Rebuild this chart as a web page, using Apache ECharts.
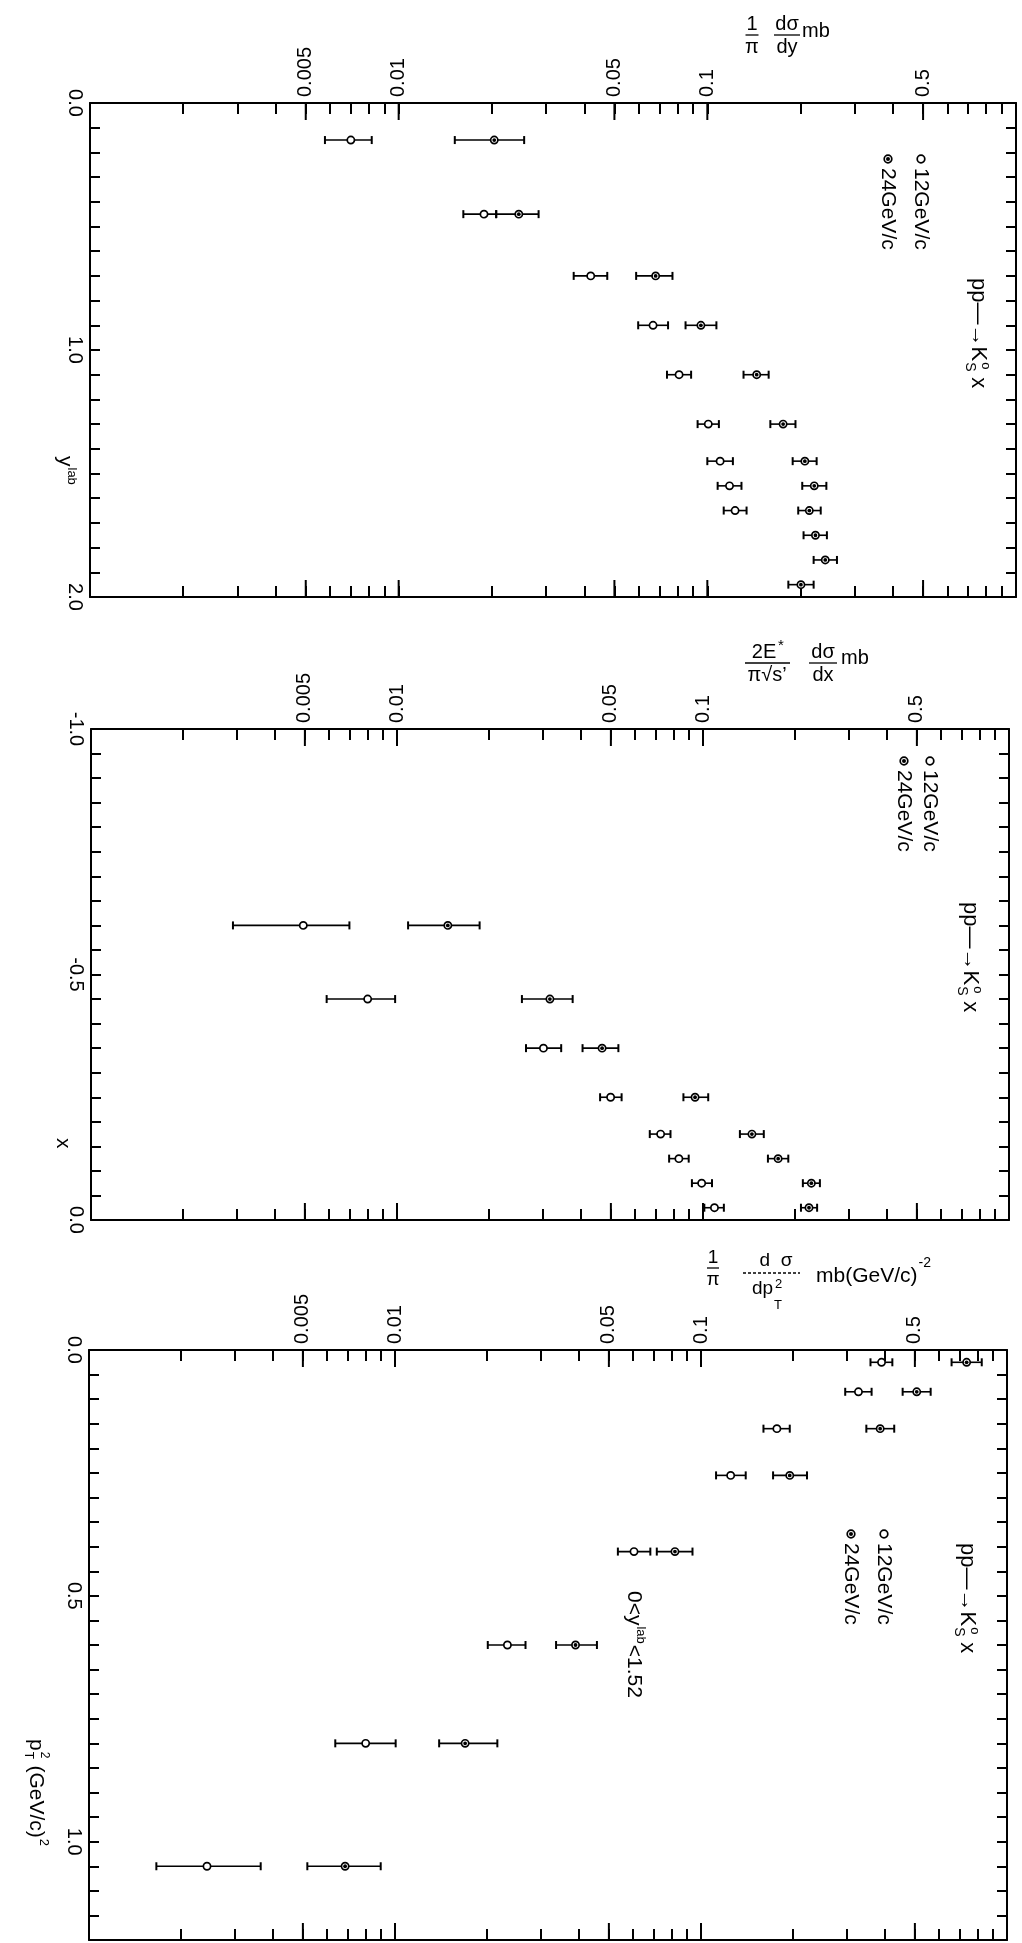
<!DOCTYPE html>
<html><head><meta charset="utf-8">
<script src="https://cdn.jsdelivr.net/npm/echarts@6/dist/echarts.min.js"></script>
<style>html,body{margin:0;padding:0;background:#fff}#c{width:1022px;height:1943px}</style>
</head><body><div id="c"></div>
<script>
// ---------------- data ----------------
const logTickValues = [0.002,0.003,0.004,0.005,0.006,0.007,0.008,0.009,0.01,0.02,0.03,0.04,0.05,0.06,0.07,0.08,0.09,0.1,0.2,0.3,0.4,0.5,0.6,0.7,0.8,0.9];
const logLabelValues = [0.005,0.01,0.05,0.1,0.5];
const logLabelTexts = ['0.005','0.01','0.05','0.1','0.5'];

const rapLabelValues = [0,1,2];
const xfLabelValues = [-1,-0.5,0];
const ptLabelValues = [0,0.5,1];

// panel 1 : 1/pi dsigma/dy vs y_lab
const rap12Y  = [0.15, 0.45, 0.7, 0.9, 1.1, 1.3, 1.45, 1.55, 1.65];
const rap12V  = [0.0070, 0.0189, 0.0419, 0.0667, 0.081, 0.1007, 0.110, 0.118, 0.123];
const rap12Lo = [0.00577, 0.0162, 0.0369, 0.0597, 0.074, 0.093, 0.100, 0.108, 0.113];
const rap12Hi = [0.00818, 0.0207, 0.0474, 0.0746, 0.0886, 0.109, 0.121, 0.129, 0.134];
const rap24Y  = [0.15, 0.45, 0.7, 0.9, 1.1, 1.3, 1.45, 1.55, 1.65, 1.75, 1.85, 1.95];
const rap24V  = [0.0204, 0.0245, 0.068, 0.0953, 0.1445, 0.176, 0.207, 0.222, 0.214, 0.224, 0.241, 0.201];
const rap24Lo = [0.0152, 0.0207, 0.0588, 0.085, 0.131, 0.160, 0.189, 0.203, 0.197, 0.205, 0.221, 0.183];
const rap24Hi = [0.0255, 0.0284, 0.0771, 0.107, 0.158, 0.193, 0.226, 0.243, 0.233, 0.244, 0.263, 0.221];

// panel 2 : 2E*/(pi sqrt s) dsigma/dx vs x
const xf12X  = [-0.6, -0.45, -0.35, -0.25, -0.175, -0.125, -0.075, -0.025];
const xf12V  = [0.00494, 0.00802, 0.0301, 0.0499, 0.0727, 0.0834, 0.099, 0.109];
const xf12Lo = [0.00291, 0.00589, 0.0264, 0.0461, 0.067, 0.0775, 0.092, 0.101];
const xf12Hi = [0.00699, 0.00986, 0.0344, 0.0542, 0.0783, 0.0898, 0.107, 0.117];
const xf24X  = [-0.6, -0.45, -0.35, -0.25, -0.175, -0.125, -0.075, -0.025];
const xf24V  = [0.01466, 0.0316, 0.0468, 0.0942, 0.1445, 0.176, 0.226, 0.222];
const xf24Lo = [0.01087, 0.0256, 0.0404, 0.0863, 0.132, 0.163, 0.212, 0.209];
const xf24Hi = [0.01862, 0.0375, 0.0529, 0.104, 0.158, 0.19, 0.241, 0.236];

// panel 3 : 1/pi dsigma/dpT2 vs pT2
const pt12P  = [0.025, 0.085, 0.16, 0.255, 0.41, 0.6, 0.8, 1.05];
const pt12V  = [0.389, 0.327, 0.177, 0.125, 0.0604, 0.0233, 0.00802, 0.00243];
const pt12Lo = [0.358, 0.296, 0.160, 0.112, 0.0535, 0.0201, 0.00638, 0.00166];
const pt12Hi = [0.422, 0.361, 0.195, 0.140, 0.0683, 0.0267, 0.01005, 0.00364];
const pt24P  = [0.025, 0.085, 0.16, 0.255, 0.41, 0.6, 0.8, 1.05];
const pt24V  = [0.738, 0.507, 0.385, 0.195, 0.0822, 0.0389, 0.01695, 0.00687];
const pt24Lo = [0.659, 0.456, 0.347, 0.172, 0.0717, 0.0336, 0.01394, 0.00517];
const pt24Hi = [0.827, 0.563, 0.428, 0.222, 0.0938, 0.0457, 0.0216, 0.00898];

// ---------------- helpers ----------------
const FONT = '"Liberation Sans", Arial, sans-serif';
const mctx = document.createElement('canvas').getContext('2d');
function tw(s, size){ mctx.font = size + 'px ' + FONT; return mctx.measureText(s).width; }

function rows(Y, V, Lo, Hi){ return Y.map((y,i)=>[V[i], y, Lo[i], Hi[i]]); }

function errRender(filled){
  return function(params, api){
    const y = api.value(1);
    const p = api.coord([api.value(0), y]);
    const a = api.coord([api.value(2), y]);
    const b = api.coord([api.value(3), y]);
    const st = {stroke:'#000', lineWidth:1.6, fill:null};
    const ch = [
      {type:'line', shape:{x1:a[0],y1:a[1],x2:b[0],y2:b[1]}, style:st},
      {type:'line', shape:{x1:a[0],y1:a[1]-4,x2:a[0],y2:a[1]+4}, style:{stroke:'#000', lineWidth:2}},
      {type:'line', shape:{x1:b[0],y1:b[1]-4,x2:b[0],y2:b[1]+4}, style:{stroke:'#000', lineWidth:2}},
      {type:'circle', shape:{cx:p[0],cy:p[1],r:3.6}, style:{fill:'#fff',stroke:'#000',lineWidth:1.7}}
    ];
    if (filled) ch.push({type:'circle', shape:{cx:p[0],cy:p[1],r:1.9}, style:{fill:'#000'}});
    return {type:'group', children:ch};
  };
}

function fmtLog(v){
  for (let i=0;i<logLabelValues.length;i++) if (Math.abs(v-logLabelValues[i]) < logLabelValues[i]*1e-6) return logLabelTexts[i];
  return '';
}

const lineSt = {color:'#000', width:2};
function xAxisPair(gi){
  return [
    {type:'log', gridIndex:gi, position:'top', min:0.001, max:1, logBase:10,
     axisLine:{show:true, onZero:false, lineStyle:lineSt},
     axisTick:{show:true, inside:true, length:11, customValues:logTickValues, lineStyle:lineSt},
     axisLabel:{show:true, customValues:logLabelValues, rotate:-90, margin:6, fontSize:20, fontFamily:FONT, color:'#000', formatter:fmtLog},
     splitLine:{show:false}, minorTick:{show:false}},
    {type:'log', gridIndex:gi, position:'bottom', min:0.001, max:1, logBase:10,
     axisLine:{show:true, onZero:false, lineStyle:lineSt},
     axisTick:{show:true, inside:true, length:11, customValues:logTickValues, lineStyle:lineSt},
     axisLabel:{show:false}, splitLine:{show:false}, minorTick:{show:false}}
  ];
}
function yAxisPair(gi, min, max, interval, labels){
  return [
    {type:'value', gridIndex:gi, position:'left', min, max, interval, inverse:true,
     axisLine:{show:true, onZero:false, lineStyle:lineSt},
     axisTick:{show:true, inside:true, length:10, lineStyle:lineSt},
     axisLabel:{show:true, customValues:labels, rotate:-90, margin:5, fontSize:20, fontFamily:FONT, color:'#000', formatter:v=>v.toFixed(1)},
     splitLine:{show:false}},
    {type:'value', gridIndex:gi, position:'right', min, max, interval, inverse:true,
     axisLine:{show:true, onZero:false, lineStyle:lineSt},
     axisTick:{show:true, inside:true, length:10, lineStyle:lineSt},
     axisLabel:{show:false}, splitLine:{show:false}}
  ];
}

function errSeries(gi, data, filled){
  return {type:'custom', xAxisIndex:2*gi, yAxisIndex:2*gi, data, encode:{x:0,y:1}, renderItem:errRender(filled), clip:false, silent:true};
}
// longer ticks at the labelled log values, on top and bottom edges
function majorTickSeries(gi, yRef){
  return {type:'custom', xAxisIndex:2*gi, yAxisIndex:2*gi, data:logLabelValues.map(v=>[v, yRef]), encode:{x:0,y:1}, clip:false, silent:true,
    renderItem:function(params, api){
      const cs = params.coordSys;
      const x = api.coord([api.value(0), api.value(1)])[0];
      const st = {stroke:'#000', lineWidth:2};
      return {type:'group', children:[
        {type:'line', shape:{x1:x, y1:cs.y, x2:x, y2:cs.y+17}, style:st},
        {type:'line', shape:{x1:x, y1:cs.y+cs.height, x2:x, y2:cs.y+cs.height-17}, style:st}
      ]};
    }};
}

// -------- graphic text helpers --------
function txt(x, y, s, size, align, valign){
  return {type:'text', x, y, style:{text:s, font:size+'px '+FONT, fill:'#000', align:align||'left', verticalAlign:valign||'middle'}};
}
function hline(x1, x2, y, dash){
  return {type:'line', shape:{x1, y1:y, x2, y2:y}, style:{stroke:'#000', lineWidth:1.3, lineDash:dash||null}};
}
function frac(cx, barY, num, den, size, barW){
  return [txt(cx, barY-1, num, size, 'center', 'bottom'), hline(cx-barW/2, cx+barW/2, barY), txt(cx, barY+2, den, size, 'center', 'top')];
}
function rot(x, y, children){ return {type:'group', x, y, rotation:-Math.PI/2, children}; }
function reaction(x, y){
  const s = 22, head = 'pp\u2014\u2192K', w = tw(head, s);
  return rot(x, y, [txt(0,0,head,s), txt(w+1,-8,'o',13), txt(w+1,8,'S',14), txt(w+10,0,' x',s)]);
}
function legendItem(x, y, label, filled){
  const ch = [{type:'circle', shape:{cx:4, cy:0, r:3.8}, style:{fill:'#fff', stroke:'#000', lineWidth:1.7}}];
  if (filled) ch.push({type:'circle', shape:{cx:4, cy:0, r:2}, style:{fill:'#000'}});
  ch.push(txt(13, 0, label, 21));
  return rot(x, y, ch);
}

const graphics = [];
// panel 1 title
graphics.push(...frac(752, 35, '1', '\u03c0', 20, 13), ...frac(787, 35, 'd\u03c3', 'dy', 20, 26), txt(802, 31, 'mb', 20));
// panel 2 title
graphics.push(txt(764, 662, '2E', 20, 'center', 'bottom'), txt(778, 646, '*', 15, 'left', 'middle'),
  hline(745, 790, 663), txt(767, 665, '\u03c0\u221as\u2019', 20, 'center', 'top'),
  ...frac(823, 663, 'd\u03c3', 'dx', 20, 28), txt(841, 658, 'mb', 20));
// panel 3 title
const p3unit = 'mb(GeV/c)';
graphics.push(...frac(713, 1268, '1', '\u03c0', 19, 12),
  txt(776, 1270, 'd  \u03c3', 19, 'center', 'bottom'), hline(743, 800, 1273, [3,2]),
  txt(752, 1279, 'dp', 19, 'left', 'top'), txt(775, 1284, '2', 13, 'left', 'middle'), txt(774, 1305, 'T', 13, 'left', 'middle'),
  txt(816, 1276, p3unit, 21), txt(816 + tw(p3unit, 21) + 1, 1263, '-2', 14));

// reaction labels + legends
graphics.push(reaction(978, 278), legendItem(921, 155, '12GeV/c', false), legendItem(888, 155, '24GeV/c', true));
graphics.push(reaction(970, 902), legendItem(930, 757, '12GeV/c', false), legendItem(904, 757, '24GeV/c', true));
graphics.push(reaction(967, 1543), legendItem(884, 1530, '12GeV/c', false), legendItem(851, 1530, '24GeV/c', true));
// rapidity range note in panel 3
graphics.push(rot(634, 1591, [txt(0,0,'0<y',21), txt(tw('0<y',21)+1,-7,'lab',13), txt(tw('0<y',21)+tw('lab',13)+2,0,'<1.52',21)]));
// axis names
graphics.push(rot(65, 456, [txt(0,0,'y',21), txt(tw('y',21)+1,-7,'lab',13)]));
graphics.push(rot(63, 1138, [txt(0,0,'x',21)]));
graphics.push(rot(36, 1739, [txt(0,0,'p',21), txt(tw('p',21)+1,-8,'2',12), txt(tw('p',21)+1,8,'T',12), txt(tw('p',21)+9,0,' (GeV/c)',21), txt(tw('p',21)+9+tw(' (GeV/c)',21)+1,-8,'2',13)]));

const option = {
  animation:false,
  backgroundColor:'#fff',
  grid:[
    {left:90, top:103, width:926, height:494, containLabel:false, outerBoundsMode:'none'},
    {left:91, top:729, width:918, height:491, containLabel:false, outerBoundsMode:'none'},
    {left:89, top:1350, width:918, height:590, containLabel:false, outerBoundsMode:'none'}
  ],
  xAxis:[...xAxisPair(0), ...xAxisPair(1), ...xAxisPair(2)],
  yAxis:[...yAxisPair(0, 0, 2, 0.1, rapLabelValues), ...yAxisPair(1, -1, 0, 0.05, xfLabelValues), ...yAxisPair(2, 0, 1.2, 0.05, ptLabelValues)],
  series:[
    majorTickSeries(0, 1), majorTickSeries(1, -0.5), majorTickSeries(2, 0.5),
    errSeries(0, rows(rap12Y, rap12V, rap12Lo, rap12Hi), false),
    errSeries(0, rows(rap24Y, rap24V, rap24Lo, rap24Hi), true),
    errSeries(1, rows(xf12X, xf12V, xf12Lo, xf12Hi), false),
    errSeries(1, rows(xf24X, xf24V, xf24Lo, xf24Hi), true),
    errSeries(2, rows(pt12P, pt12V, pt12Lo, pt12Hi), false),
    errSeries(2, rows(pt24P, pt24V, pt24Lo, pt24Hi), true)
  ],
  graphic:graphics
};
const chart = echarts.init(document.getElementById('c'), null, {renderer:'canvas'});
chart.setOption(option);
</script>
</body></html>
